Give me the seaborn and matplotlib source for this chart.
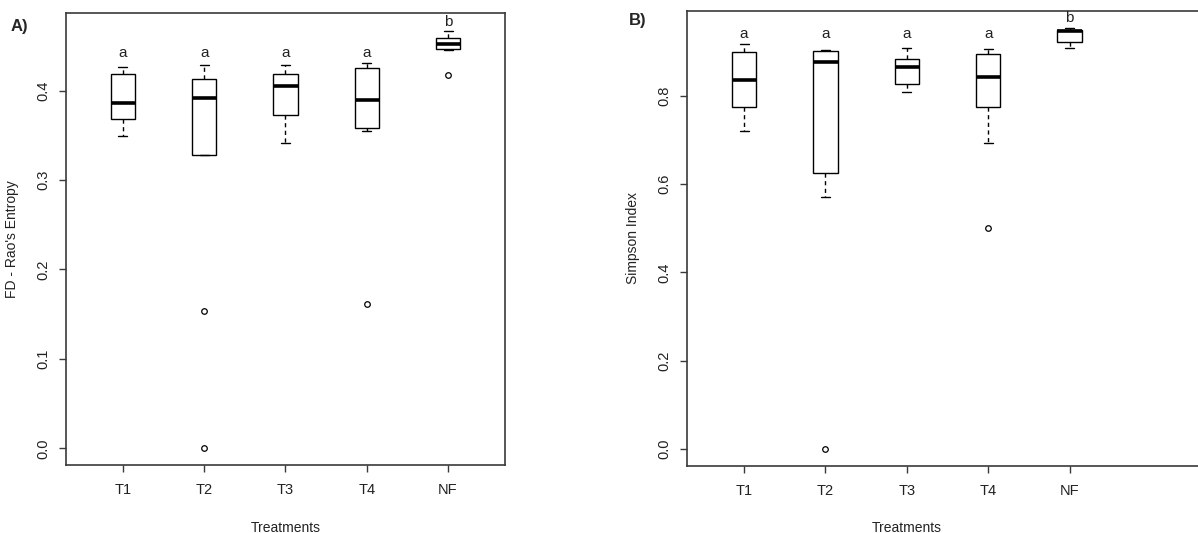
import pandas as pd
import matplotlib
matplotlib.use("Agg")
import matplotlib.pyplot as plt
import seaborn as sns

treatments = ["T1", "T2", "T3", "T4", "NF"]

# FD - Rao's entropy, values (whisker ends, hinges, medians, outliers)
rao_t1 = [0.349, 0.368, 0.386, 0.419, 0.426]
rao_t2 = [0.0, 0.153, 0.328, 0.328, 0.392, 0.413, 0.413, 0.429, 0.429]
rao_t3 = [0.3415, 0.373, 0.405, 0.4185, 0.429]
rao_t4 = [0.161, 0.3553, 0.358, 0.358, 0.389, 0.389, 0.425, 0.425, 0.431]
rao_nf = [0.417, 0.4453, 0.4464, 0.4464, 0.452, 0.452, 0.4584, 0.4584, 0.4662]

# Simpson index
simp_t1 = [0.720, 0.775, 0.836, 0.899, 0.919]
simp_t2 = [0.0, 0.570, 0.625, 0.625, 0.877, 0.877, 0.901, 0.901, 0.904]
simp_t3 = [0.810, 0.827, 0.865, 0.8835, 0.9085]
simp_t4 = [0.500, 0.694, 0.775, 0.775, 0.844, 0.844, 0.896, 0.896, 0.906]
simp_nf = [0.9085, 0.923, 0.947, 0.950, 0.954]

rao_letters = ["a", "a", "a", "a", "b"]
simp_letters = ["a", "a", "a", "a", "b"]


def long_df(groups):
    rows = []
    for name, vals in zip(treatments, groups):
        for v in vals:
            rows.append({"treatment": name, "value": v})
    return pd.DataFrame(rows)


rao = long_df([rao_t1, rao_t2, rao_t3, rao_t4, rao_nf])
simp = long_df([simp_t1, simp_t2, simp_t3, simp_t4, simp_nf])

sns.set_style("ticks")
plt.rcParams["font.family"] = ["Liberation Sans", "DejaVu Sans"]

fig = plt.figure(figsize=(11.98, 5.33), dpi=100)
ax1 = fig.add_axes([0.0551, 0.1276, 0.3664, 0.848])
ax2 = fig.add_axes([0.5735, 0.1263, 0.4315, 0.8525])

grey = "#3a3a3a"


def draw(ax, df, letters, ylabel, ylim, yticks):
    sns.boxplot(data=df, x="treatment", y="value", order=treatments, ax=ax,
                color="white", linecolor="black", linewidth=1.0, width=0.3,
                capwidths=0.11,
                whiskerprops={"linestyle": (0, (3, 2.5))},
                medianprops={"linewidth": 2.6},
                flierprops={"marker": "o", "markerfacecolor": "none",
                            "markersize": 4, "markeredgewidth": 0.9})
    ax.set_ylim(*ylim)
    ax.set_yticks(yticks)
    ax.set_yticklabels([f"{t:.1f}" for t in yticks], rotation=90, va="center")
    ax.set_xlabel("Treatments", fontsize=10, labelpad=17, color="#222222")
    ax.set_ylabel(ylabel, fontsize=10, labelpad=13, color="#222222")
    ax.tick_params(axis="both", labelsize=10.5, length=5, width=1.0,
                   color=grey, labelcolor="#222222")
    ax.tick_params(axis="x", pad=8)
    ax.tick_params(axis="y", pad=6)
    for s in ax.spines.values():
        s.set_visible(True)
        s.set_color(grey)
        s.set_linewidth(1.2)
    # significance letters: one common height per letter group
    tops = df.groupby("treatment")["value"].max()
    level = {}
    for name, lab in zip(treatments, letters):
        level[lab] = max(level.get(lab, -1), tops[name])
    for i, lab in enumerate(letters):
        ax.annotate(lab, (i, level[lab]), xytext=(0, 7), textcoords="offset points",
                    ha="center", va="center", fontsize=11, color="#222222")


draw(ax1, rao, rao_letters, "FD - Rao's Entropy", (-0.0187, 0.4867),
     [0.0, 0.1, 0.2, 0.3, 0.4])
ax1.set_xlim(-0.7, 4.7)
draw(ax2, simp, simp_letters, "Simpson Index", (-0.038, 0.992),
     [0.0, 0.2, 0.4, 0.6, 0.8])
ax2.set_xlim(-0.7, 5.65)
# the right panel's label sits under the middle group, as in the source figure
ax2.xaxis.label.set_x((2 + 0.7) / (5.65 + 0.7))

fig.text(0.016, 0.951, "A)", fontsize=12, fontweight="bold", va="center", ha="center")
fig.text(0.532, 0.961, "B)", fontsize=12, fontweight="bold", va="center", ha="center")

fig.savefig("out.png", dpi=100)
